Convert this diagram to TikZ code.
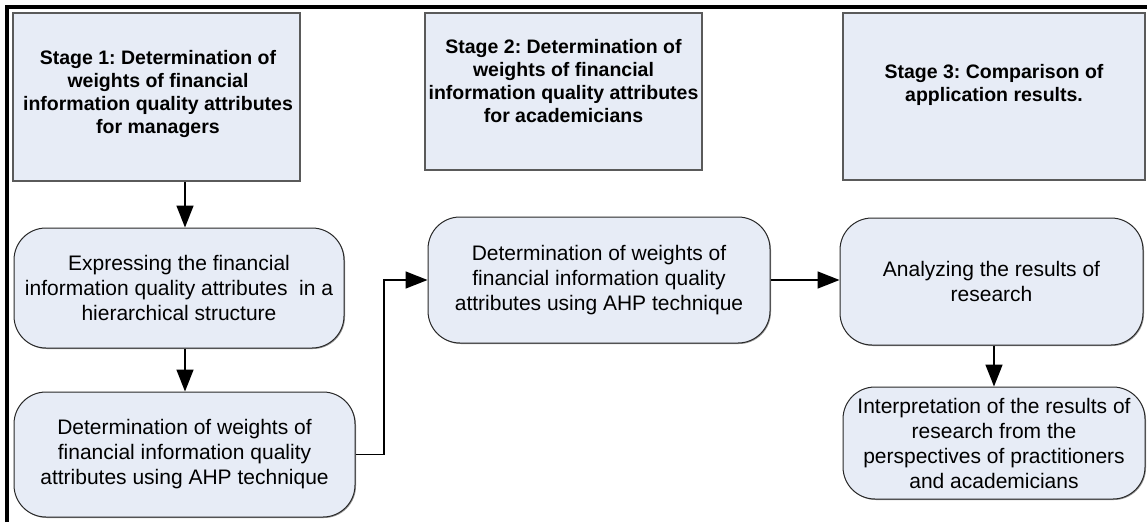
\documentclass[tikz,border=0pt]{standalone}
\usepackage{fontspec}
\setmainfont{Liberation Sans}
\frenchspacing
\usetikzlibrary{arrows.meta,shadows}

\definecolor{boxfill}{RGB}{231,236,246}
\definecolor{boxline}{RGB}{40,40,40}
\definecolor{stageline}{RGB}{90,90,90}

\tikzset{
  stagebox/.style={rectangle, draw=stageline, line width=1.2pt, fill=boxfill,
    inner sep=0pt,
    drop shadow={shadow xshift=1pt, shadow yshift=-1pt, fill=black!40, opacity=1}},
  stagetext/.style={align=center, inner sep=0pt,
    font=\fontsize{19.5}{23}\selectfont\bfseries},
  stepbox/.style={rectangle, rounded corners=32pt, draw=boxline, line width=1pt,
    fill=boxfill, inner sep=0pt, align=center,
    font=\fontsize{21}{25}\selectfont,
    drop shadow={shadow xshift=1pt, shadow yshift=-1pt, fill=black!40, opacity=1}},
  arr/.style={draw=black, line width=1.6pt,
    -{Triangle[length=22pt,width=17pt]}},
}

\begin{document}
\begin{tikzpicture}[x=1pt,y=-1pt]
  \useasboundingbox (0,0) rectangle (1147,522);

  % frame: heavy rule along the top and the left side
  \draw[line width=4pt, line join=miter] (7,522) -- (7,7) -- (1147,7);

  % stage headers
  \node[stagebox, minimum width=287pt, minimum height=168pt] (s1) at (156.5,97) {};
  \node[stagebox, minimum width=277pt, minimum height=157pt] (s2) at (563.5,91.5) {};
  \node[stagebox, minimum width=302pt, minimum height=167pt] (s3) at (994,96.5) {};

  \node[stagetext] (s1t) at (158,94) {Stage 1: Determination of\\weights of financial\\information quality attributes\\for managers};
  \node[stagetext] (s2t) at (563.5,81) {Stage 2: Determination of\\weights of financial\\information quality attributes\\for academicians};
  \node[stagetext] (s3t) at (994,85) {Stage 3: Comparison of\\application results.};

  % process steps
  \node[stepbox, minimum width=330pt, minimum height=120pt] (A) at (179,288)
    {Expressing the financial\\information quality attributes~ in a\\hierarchical structure};
  \node[stepbox, minimum width=341pt, minimum height=125pt] (B) at (184.5,454.5)
    {Determination of weights of\\financial information quality\\attributes using AHP technique};
  \node[stepbox, minimum width=342pt, minimum height=126pt] (C) at (599,280)
    {Determination of weights of\\financial information quality\\attributes using AHP technique};
  \node[stepbox, minimum width=303pt, minimum height=127pt] (D) at (991.5,281.5)
    {Analyzing the results of\\research};
  \node[stepbox, minimum width=302pt, minimum height=112pt] (E) at (994,443)
    {Interpretation of the results of\\research from the\\perspectives of practitioners\\and academicians};

  % connector guides
  \coordinate (colA) at (185,0);
  \coordinate (jog) at (384,300);

  % connectors
  \draw[arr] (s1.south -| colA) -- (A.north -| colA);
  \draw[arr] (A.south -| colA) -- (B.north -| colA);
  \draw[arr] (B.east) -- (B.east -| jog) -- (C.west -| jog) -- (C.west);
  \draw[arr] (C.east) -- (C.east -| D.west);
  \draw[arr] (D.south -| E.north) -- (E.north);
\end{tikzpicture}
\end{document}
